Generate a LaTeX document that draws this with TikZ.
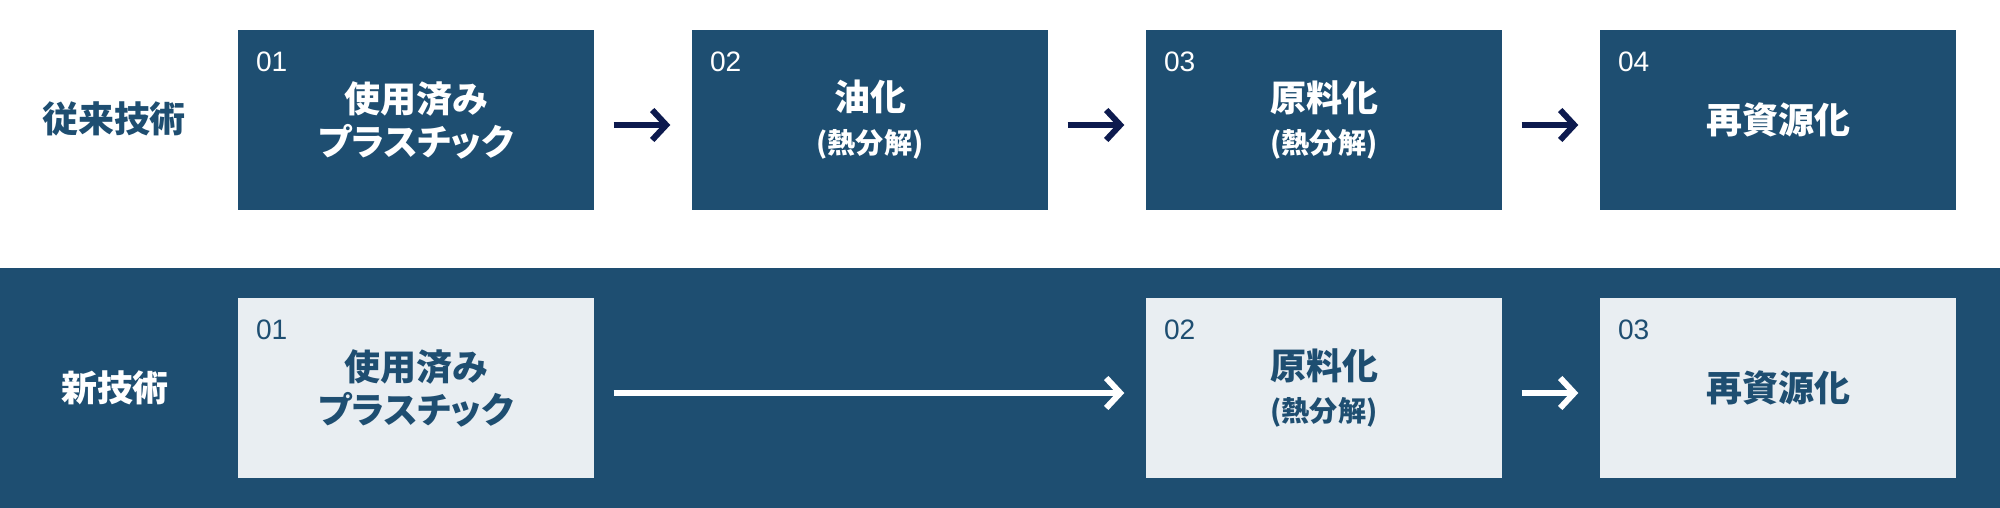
\documentclass[tikz,border=0pt]{standalone}
\usepackage{fontspec}
\newfontfamily\jp{Noto Sans CJK JP}
\newfontfamily\jpp{Noto Sans CJK JP}[RawFeature=+palt]
\newfontfamily\numfont{Liberation Sans}
\usetikzlibrary{arrows.meta}
\definecolor{navy}{HTML}{1E4E71}
\definecolor{pale}{HTML}{E9EEF2}
\definecolor{ink}{HTML}{0D1A4E}
\newcommand\subline[1]{{\fontsize{8pt}{12.2pt}\selectfont #1}}

\begin{document}
\begin{tikzpicture}[box/.style={minimum width=3.56cm,minimum height=1.8cm,inner sep=0pt,align=center,font=\jpp\bfseries\fontsize{10.24pt}{12.2pt}\selectfont},
  oldbox/.style={box,fill=navy,text=white},
  newbox/.style={box,fill=pale,text=navy},
  num/.style={anchor=base west,inner sep=0pt,font=\numfont\fontsize{8pt}{9pt}\selectfont},
  rowlabel/.style={inner sep=0pt,font=\jp\bfseries\fontsize{10.24pt}{12.2pt}\selectfont},
  flow/.style={line width=0.6mm,-{Straight Barb[length=1.4mm,width=3mm]},shorten <=1.9mm,shorten >=2.1mm}]
\useasboundingbox (0,0) rectangle (20,5.08);
\fill[navy] (0,0) rectangle (20,2.40);
% conventional process
\node[rowlabel,text=navy] (old) at (1.14,3.89) {従来技術};
\node[oldbox] (o1) at (4.16,3.88) {使用済み\\プラスチック};
\node[oldbox] (o2) at (8.70,3.88) {油化\\\subline{(熱分解)}};
\node[oldbox] (o3) at (13.24,3.88) {原料化\\\subline{(熱分解)}};
\node[oldbox] (o4) at (17.78,3.88) {再資源化};
\node[num,text=white] (o1n) at ([xshift=1.8mm,yshift=-4.2mm]o1.north west) {01};
\node[num,text=white] (o2n) at ([xshift=1.8mm,yshift=-4.2mm]o2.north west) {02};
\node[num,text=white] (o3n) at ([xshift=1.8mm,yshift=-4.2mm]o3.north west) {03};
\node[num,text=white] (o4n) at ([xshift=1.8mm,yshift=-4.2mm]o4.north west) {04};
\draw[flow,ink] ([yshift=-0.5mm]o1.east) -- ([yshift=-0.5mm]o2.west);
\draw[flow,ink] ([yshift=-0.5mm]o2.east) -- ([yshift=-0.5mm]o3.west);
\draw[flow,ink] ([yshift=-0.5mm]o3.east) -- ([yshift=-0.5mm]o4.west);
% new process
\node[rowlabel,text=white] (new) at (1.15,1.20) {新技術};
\node[newbox] (n1) at (4.16,1.20) {使用済み\\プラスチック};
\node[newbox] (n2) at (13.24,1.20) {原料化\\\subline{(熱分解)}};
\node[newbox] (n3) at (17.78,1.20) {再資源化};
\node[num,text=navy] (n1n) at ([xshift=1.8mm,yshift=-4.2mm]n1.north west) {01};
\node[num,text=navy] (n2n) at ([xshift=1.8mm,yshift=-4.2mm]n2.north west) {02};
\node[num,text=navy] (n3n) at ([xshift=1.8mm,yshift=-4.2mm]n3.north west) {03};
\draw[flow,white] ([yshift=-0.5mm]n1.east) -- ([yshift=-0.5mm]n2.west);
\draw[flow,white] ([yshift=-0.5mm]n2.east) -- ([yshift=-0.5mm]n3.west);
\end{tikzpicture}
\end{document}
